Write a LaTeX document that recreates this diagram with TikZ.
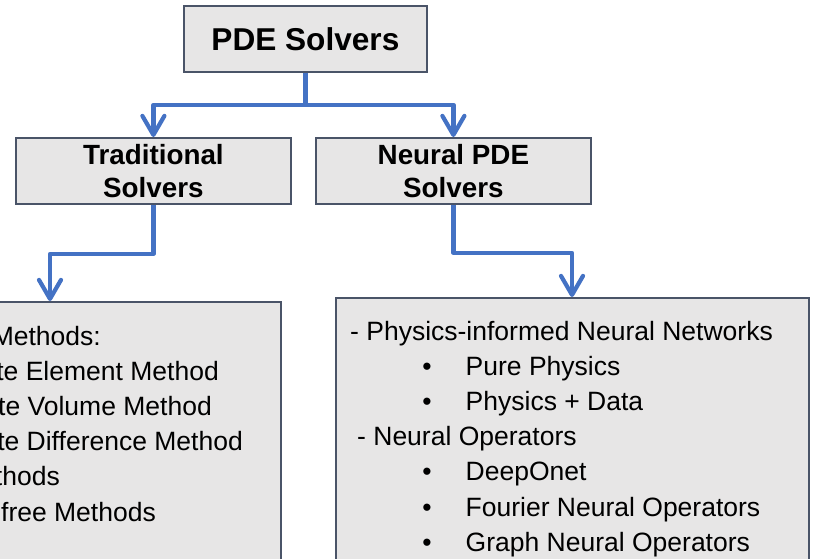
\documentclass[tikz,border=0pt]{standalone}
\usepackage{fontspec}
\setmainfont{Liberation Sans}
\usetikzlibrary{arrows.meta}
\definecolor{boxfill}{HTML}{E7E6E6}
\definecolor{boxline}{HTML}{4A5468}
\definecolor{linkblue}{HTML}{4472C4}
\begin{document}
\begin{tikzpicture}[x=1pt,y=-1pt,
  box/.style={draw=boxline, fill=boxfill, line width=1.8pt, inner sep=0pt,
    anchor=north west, align=center},
  titlefont/.style={font=\fontsize{31.6}{37}\selectfont\bfseries},
  headfont/.style={font=\fontsize{27.8}{33}\selectfont\bfseries},
  item/.style={font=\fontsize{26.5}{35}\selectfont, inner sep=0pt, anchor=base west},
  itemend/.style={font=\fontsize{26.5}{35}\selectfont, inner sep=0pt, anchor=base east},
  dot/.style={font=\fontsize{26.5}{35}\selectfont, inner sep=0pt, anchor=base},
  conn/.style={draw=linkblue, line width=4.2pt, line join=round,
    -{Straight Barb[length=19pt,width=22pt,round]}}
]
\useasboundingbox (0,0) rectangle (813,558);
\clip (0,0) rectangle (813,558);

% boxes
\node[box, titlefont, minimum width=243pt, minimum height=66pt] (root) at (183,5) {PDE Solvers};
\node[box, headfont, minimum width=275pt, minimum height=66pt] (trad) at (15,137) {Traditional\\Solvers};
\node[box, headfont, minimum width=275pt, minimum height=66pt] (neural) at (315,137) {Neural PDE\\Solvers};
\node[box, minimum width=300pt, minimum height=300pt] (leftlist) at (-20,301) {};
\node[box, minimum width=473pt, minimum height=303pt] (rightlist) at (335,297) {};

% arrow targets on the list boxes
\path (leftlist.north west) ++(70,0) coordinate (ltip);
\path (rightlist.north west) ++(237,0) coordinate (rtip);

% connectors
\draw[conn] (root.south) -- ++(0,32) -| (trad.north);
\draw[conn] (root.south) -- ++(0,32) -| (neural.north);
\draw[conn] (trad.south) -- ++(0,49) -| (ltip);
\draw[conn] (neural.south) -- ++(0,48) -| (rtip);

% traditional methods list
\node[itemend] (l1) at (101,345)   {Methods:};
\node[itemend] (l2) at (219,380.2) {te Element Method};
\node[itemend] (l3) at (212,415.4) {te Volume Method};
\node[itemend] (l4) at (243,450.6) {te Difference Method};
\node[itemend] (l5) at (60,485.8)  {thods};
\node[itemend] (l6) at (156,521)   {-free Methods};

% neural methods list
\node[item] (r1) at (350,340)   {- Physics-informed Neural Networks};
\node[dot]  (b2) at (427,375.2) {•};
\node[item] (r2) at (465.5,375.2) {Pure Physics};
\node[dot]  (b3) at (427,410.4) {•};
\node[item] (r3) at (465.5,410.4) {Physics + Data};
\node[item] (r4) at (357,445.6) {- Neural Operators};
\node[dot]  (b5) at (427,480.8) {•};
\node[item] (r5) at (465.5,480.8) {DeepOnet};
\node[dot]  (b6) at (427,516)   {•};
\node[item] (r6) at (465.5,516)   {Fourier Neural Operators};
\node[dot]  (b7) at (427,551.2) {•};
\node[item] (r7) at (465.5,551.2) {Graph Neural Operators};
\end{tikzpicture}
\end{document}
